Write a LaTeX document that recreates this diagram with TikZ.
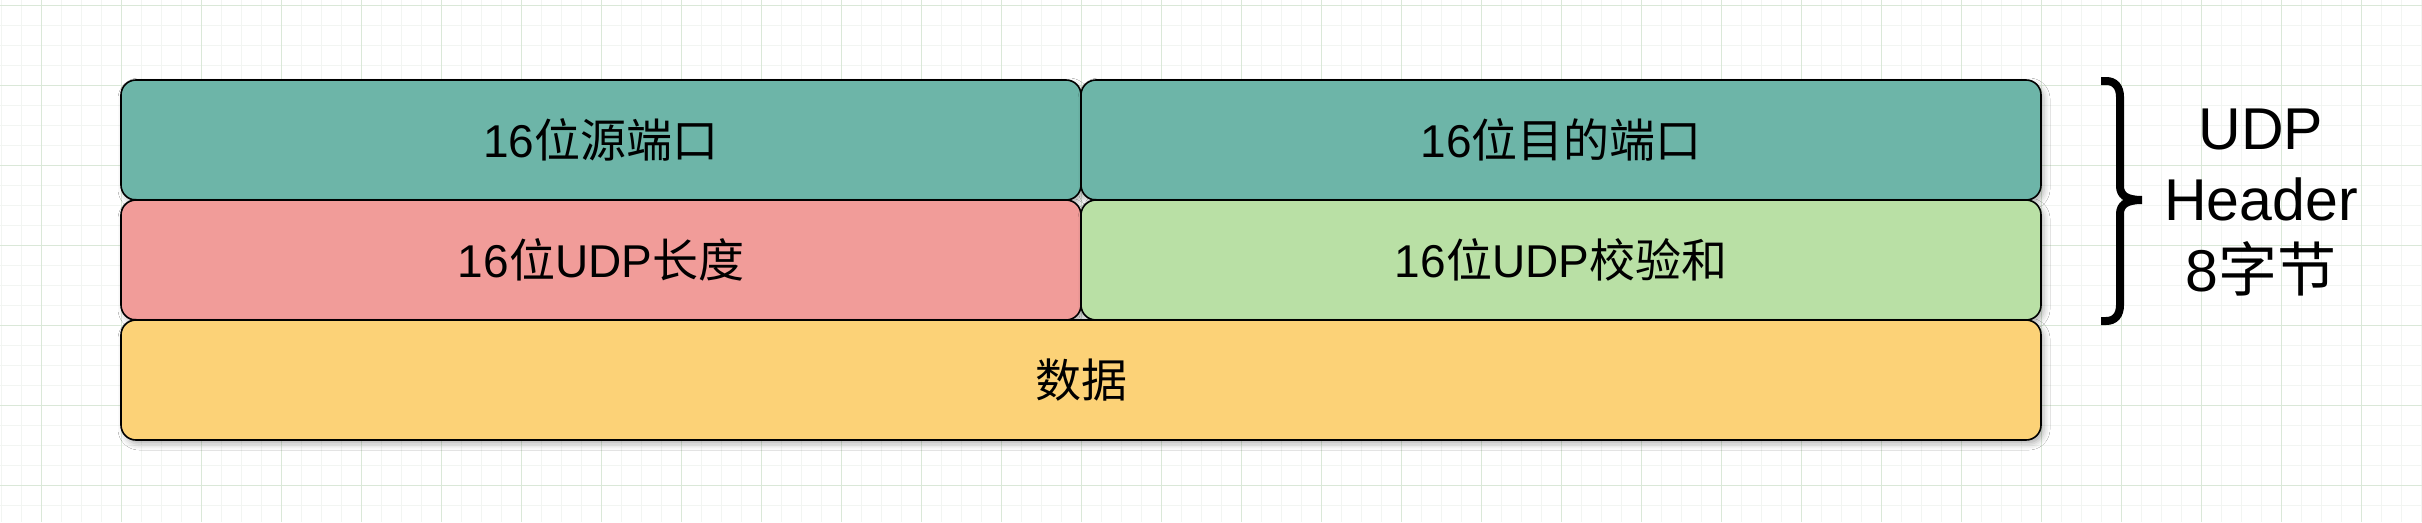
\documentclass[tikz,border=0pt]{standalone}
\usepackage{fontspec}
\setmainfont{Liberation Sans}
\newfontfamily\cjk{Noto Sans CJK SC}
\usetikzlibrary{shadows.blur}
\definecolor{gridminor}{HTML}{F2F5F2}
\definecolor{gridmajor}{HTML}{DAE8D8}
\definecolor{teal}{HTML}{6DB5A8}
\definecolor{pinkred}{HTML}{F19C99}
\definecolor{lightgreen}{HTML}{B9E0A5}
\definecolor{yellowish}{HTML}{FCD277}
\tikzset{
  field/.style={draw=black, line width=1.6pt, rounded corners=15pt,
    minimum width=960pt, minimum height=120pt, inner sep=0pt,
    font=\fontsize{46}{55}\selectfont,
    blur shadow={shadow xshift=3pt, shadow yshift=-4pt, shadow blur radius=6pt, shadow opacity=30}},
  minorline/.style={draw=gridminor, line width=1.2pt},
  majorline/.style={draw=gridmajor, line width=1.2pt},
  bracket/.style={draw=black, line width=8pt},
  label/.style={font=\fontsize{59}{71}\selectfont, align=center}
}
\begin{document}
\begin{tikzpicture}[x=1pt,y=-1pt]
\fill[white] (0,0) rectangle (2422,522);
\useasboundingbox (0,0) rectangle (2422,522);
% grid
\foreach \x in {1.3,21.3,...,2422} \draw[minorline] (\x,0) -- (\x,522);
\foreach \y in {5.3,25.3,...,522} \draw[minorline] (0,\y) -- (2422,\y);
\foreach \x in {41.3,121.3,...,2422} \draw[majorline] (\x,0) -- (\x,522);
\foreach \y in {5.3,85.3,...,522} \draw[majorline] (0,\y) -- (2422,\y);
% fields
\node[field, fill=teal] (src) at (601,140) {16{\cjk 位源端口}};
\node[field, fill=teal] (dst) at (1561,140) {16{\cjk 位目的端口}};
\node[field, fill=pinkred] (len) at (601,260) {16{\cjk 位}UDP{\cjk 长度}};
\node[field, fill=lightgreen] (chk) at (1561,260) {16{\cjk 位}UDP{\cjk 校验和}};
\node[field, fill=yellowish, minimum width=1920pt] (data) at (1081,380) {{\cjk 数据}};
% bracket
\draw[bracket] (2101,81) -- (2106,81) .. controls (2115,81) and (2120,87) .. (2120,97)
  -- (2120,186) .. controls (2120,195) and (2126,200) .. (2142,200)
  .. controls (2126,200) and (2120,205) .. (2120,214)
  -- (2120,305) .. controls (2120,315) and (2115,321) .. (2106,321) -- (2101,321);
\node[label] (hdr) at (2261,203) {UDP\\Header\\8{\cjk 字节}};
\end{tikzpicture}
\end{document}
